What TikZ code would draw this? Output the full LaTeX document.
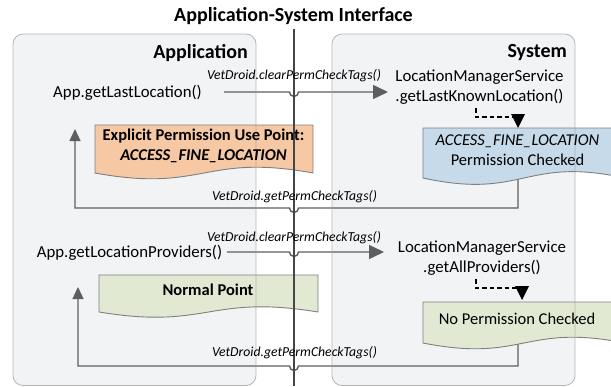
\documentclass[tikz,border=0pt]{standalone}
\usepackage{fontspec}
\setmainfont{Carlito}
\usetikzlibrary{arrows.meta}
\definecolor{boxfill}{HTML}{F2F3F5}
\definecolor{boxline}{HTML}{A6A6A6}
\definecolor{linegray}{HTML}{5E5E5E}
\definecolor{ifline}{HTML}{454545}
\definecolor{docline}{HTML}{7F7F7F}
\definecolor{orangefill}{HTML}{F6C8A4}
\definecolor{greenfill}{HTML}{E2E9D2}
\definecolor{bluefill}{HTML}{C7DAEA}
\tikzset{
  maintext/.style={font=\fontsize{16.8}{20}\selectfont, inner sep=0pt, align=center},
  doctext/.style={font=\fontsize{16.5}{20}\selectfont, inner sep=0pt, align=center},
  calllabel/.style={font=\fontsize{13.7}{16}\selectfont\itshape, inner sep=0pt},
  header/.style={font=\fontsize{20}{24}\selectfont\bfseries, inner sep=0pt},
  conn/.style={draw=linegray, line width=1.4pt},
  tipH/.style={-{Triangle[length=15pt,width=14pt]}},
  tipV/.style={-{Triangle[length=12pt,width=11pt]}},
  dashconn/.style={draw=black, line width=1.4pt, dash pattern=on 4.5pt off 3pt},
  docshape/.style={draw=docline, line width=0.9pt},
  container/.style={rounded corners=10pt}
}
\begin{document}
\begin{tikzpicture}[x=1pt,y=-1pt]
\useasboundingbox (0,0) rectangle (611,386);
% container fills
\fill[boxfill, container] (13,34) rectangle (256,385.5);
\fill[boxfill, container] (332,34) rectangle (575,385.5);

% coordinates
\coordinate (a1s) at (224,92);
\coordinate (a1e) at (388,92);
\coordinate (a2s) at (227,252);
\coordinate (a2e) at (384,252);
\coordinate (r1s) at (518,172);
\coordinate (r1e) at (75,129);
\coordinate (r2s) at (518,338);
\coordinate (r2e) at (78,287);
\coordinate (d1s) at (476,108);
\coordinate (d1e) at (518,117);
\coordinate (d2s) at (476,279);
\coordinate (d2e) at (522,288);

% forward calls with hop
\draw[conn, tipH] (a1s) -- (289.5,92) arc[start angle=180,end angle=0,radius=4.5] -- (a1e);
\draw[conn, tipH] (a2s) -- (289.5,252) arc[start angle=180,end angle=0,radius=4.5] -- (a2e);
% returns
\draw[conn, tipV] (r1s) -- (518,208) -- (298.5,208) arc[start angle=0,end angle=180,radius=4.5] -- (75,208) -- (r1e);
\draw[conn, tipV] (r2s) -- (518,366) -- (298.5,366) arc[start angle=0,end angle=180,radius=4.5] -- (78,366) -- (r2e);
% dashed checks
\draw[dashconn] (d1s) -- (476,117) -- (d1e);
\fill[black] (511,114) -- (525,114) -- (518,128) -- cycle;
\draw[dashconn] (d2s) -- (476,288) -- (d2e);
\fill[black] (515,286) -- (529,286) -- (522,300) -- cycle;

% documents
\path[docshape, fill=orangefill] (95,125) -- (313,125) -- (313,173)
  .. controls (204,153) and (204,193) .. (95,173) -- cycle;
\path[docshape, fill=greenfill] (99,275) -- (318,275) -- (318,312)
  .. controls (208.5,294) and (208.5,330) .. (99,312) -- cycle;
\path[docshape, fill=bluefill] (423,128) -- (625,128) -- (625,178)
  .. controls (524,156) and (524,200) .. (423,178) -- cycle;
\path[docshape, fill=greenfill] (423,302) -- (625,302) -- (625,343)
  .. controls (524,323) and (524,363) .. (423,343) -- cycle;

% container borders (faint, on top)
\draw[boxline, container, line width=0.8pt, draw opacity=0.8] (13,34) rectangle (256,385.5);
\draw[boxline, container, line width=0.8pt, draw opacity=0.8] (332,34) rectangle (575,385.5);

% interface line
\draw[ifline, line width=2pt] (294,29) -- (294,386);

% texts
\node[header] (title) at (293.5,16) {Application-System Interface};
\node[header, anchor=east] (apphdr) at (248,53) {Application};
\node[header, anchor=east] (syshdr) at (567,53) {System};

\node[maintext] (app1) at (127.5,93) {App.getLastLocation()};
\node[maintext] (app2) at (129.5,253) {App.getLocationProviders()};
\node[maintext] (lms1) at (479.5,87) {LocationManagerService\\.getLastKnownLocation()};
\node[maintext] (lms2) at (482,258) {LocationManagerService\\.getAllProviders()};

\node[calllabel] (c1) at (294,76) {VetDroid.clearPermCheckTags()};
\node[calllabel] (g1) at (294.5,196.5) {VetDroid.getPermCheckTags()};
\node[calllabel] (c2) at (294,238) {VetDroid.clearPermCheckTags()};
\node[calllabel] (g2) at (294.5,353) {VetDroid.getPermCheckTags()};

\node[doctext, font=\fontsize{16.5}{20}\selectfont\bfseries] (explicit) at (203.5,146) {Explicit Permission Use Point:\\\itshape ACCESS\_FINE\_LOCATION};
\node[doctext, font=\fontsize{16.5}{20}\selectfont\bfseries] (normal) at (208,290) {Normal Point};
\node[doctext] (checked) at (517.5,150.5) {\itshape ACCESS\_FINE\_LOCATION\\Permission Checked};
\node[doctext] (nocheck) at (517,319) {No Permission Checked};
\end{tikzpicture}
\end{document}
